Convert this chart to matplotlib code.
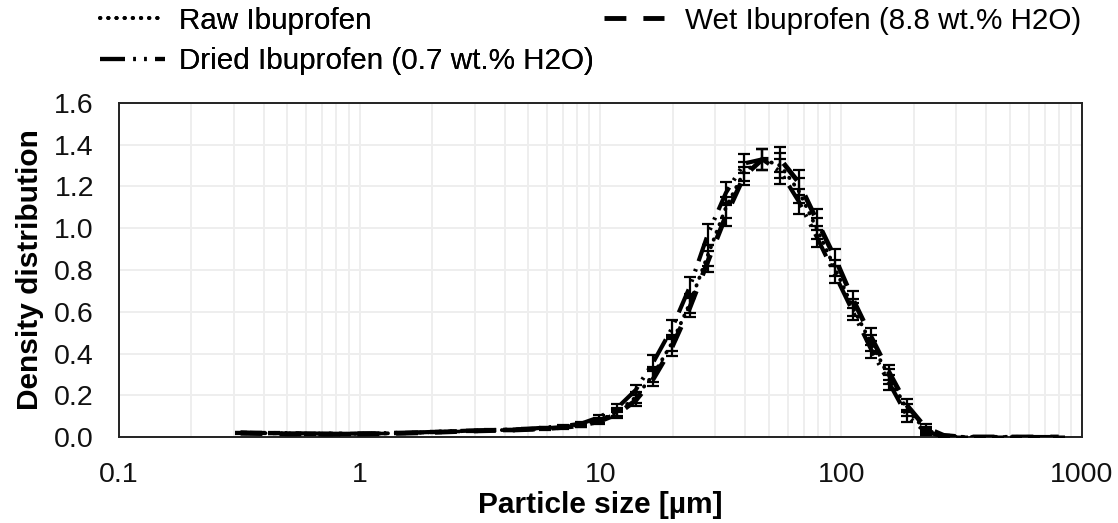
import matplotlib
matplotlib.use("Agg")
import matplotlib.pyplot as plt
from matplotlib.ticker import FixedLocator, FixedFormatter, LogLocator, NullFormatter

plt.rcParams["font.family"] = ["Liberation Sans", "DejaVu Sans"]

# Particle size classes [µm]
sizes = [0.32, 0.37, 0.44, 0.52, 0.62, 0.73, 0.87, 1.04, 1.23, 1.47,
         1.75, 2.08, 2.47, 2.94, 3.49, 4.15, 4.94, 5.88, 6.99, 8.31,
         9.88, 11.75, 14.0, 16.6, 19.8, 23.5, 27.9, 33.2, 39.5, 47.0,
         55.9, 66.5, 79.0, 94.0, 111.8, 133.0, 158.0, 188.0, 224.0, 266.0,
         316.0, 376.0, 447.0, 532.0, 632.0, 800.0]

raw = [0.020, 0.019, 0.018, 0.017, 0.016, 0.015, 0.015, 0.016, 0.017, 0.019,
       0.021, 0.024, 0.027, 0.030, 0.032, 0.034, 0.037, 0.042, 0.048, 0.058,
       0.080, 0.120, 0.190, 0.300, 0.450, 0.640, 0.870, 1.100, 1.270, 1.330,
       1.300, 1.180, 1.000, 0.810, 0.620, 0.450, 0.290, 0.130, 0.035, 0.005,
       0.000, 0.000, 0.000, 0.000, 0.000, 0.000]

dried = [0.022, 0.020, 0.019, 0.018, 0.017, 0.016, 0.016, 0.017, 0.018, 0.020,
         0.022, 0.025, 0.028, 0.031, 0.033, 0.035, 0.039, 0.045, 0.052, 0.064,
         0.095, 0.140, 0.225, 0.360, 0.520, 0.720, 0.970, 1.170, 1.310, 1.330,
         1.270, 1.130, 0.960, 0.780, 0.600, 0.420, 0.260, 0.100, 0.025, 0.003,
         0.000, 0.000, 0.000, 0.000, 0.000, 0.000]

wet = [0.018, 0.017, 0.016, 0.015, 0.015, 0.014, 0.014, 0.015, 0.016, 0.018,
       0.020, 0.023, 0.026, 0.029, 0.031, 0.033, 0.036, 0.040, 0.046, 0.055,
       0.075, 0.110, 0.175, 0.280, 0.430, 0.620, 0.840, 1.060, 1.250, 1.330,
       1.330, 1.220, 1.040, 0.860, 0.660, 0.480, 0.310, 0.150, 0.045, 0.008,
       0.000, 0.000, 0.000, 0.000, 0.000, 0.000]

err = [0.003, 0.003, 0.003, 0.003, 0.003, 0.003, 0.003, 0.003, 0.003, 0.003,
       0.003, 0.003, 0.003, 0.003, 0.004, 0.004, 0.004, 0.005, 0.006, 0.008,
       0.012, 0.018, 0.025, 0.035, 0.040, 0.045, 0.050, 0.050, 0.045, 0.050,
       0.060, 0.060, 0.050, 0.040, 0.040, 0.040, 0.035, 0.030, 0.015, 0.004,
       0.000, 0.000, 0.000, 0.000, 0.000, 0.000]

labels = ["Raw Ibuprofen", "Dried Ibuprofen (0.7 wt.% H2O)", "Wet Ibuprofen (8.8 wt.% H2O)"]
x_ticks = [0.1, 1, 10, 100, 1000]
x_tick_labels = ["0.1", "1", "10", "100", "1000"]
y_ticks = [0.0, 0.2, 0.4, 0.6, 0.8, 1.0, 1.2, 1.4, 1.6]

FS_TICK = 20.5
FS_LABEL = 21.5
FS_LEG = 21.3

fig = plt.figure(figsize=(11.18, 5.23), dpi=100)
ax = fig.add_axes([0.1064, 0.1644, 0.8614, 0.6387])

styles = [
    dict(linestyle=(0, (0.1, 2.0)), linewidth=2.8, dash_capstyle="round"),
    dict(linestyle=(0, (6, 2, 0.6, 2, 0.6, 2)), linewidth=3.0),
    dict(linestyle=(0, (4.5, 3.5)), linewidth=3.5),
]

handles = []
for ys, st, lab in zip([raw, dried, wet], styles, labels):
    ax.errorbar(sizes, ys, yerr=err, fmt="none", ecolor="black",
                elinewidth=1.6, capsize=4.5, capthick=1.6, zorder=3)
    ln, = ax.plot(sizes, ys, color="black", label=lab, zorder=4, **st)
    handles.append(ln)

ax.set_xscale("log")
ax.set_xlim(0.1, 1000)
ax.set_ylim(0, 1.6)
ax.xaxis.set_major_locator(FixedLocator(x_ticks))
ax.xaxis.set_major_formatter(FixedFormatter(x_tick_labels))
ax.xaxis.set_minor_locator(LogLocator(base=10, subs=range(2, 10)))
ax.xaxis.set_minor_formatter(NullFormatter())
ax.set_yticks(y_ticks)
ax.set_yticklabels([f"{v:.1f}" for v in y_ticks])

ax.grid(True, which="both", axis="x", color="#eeeeee", linewidth=1.4, zorder=0)
ax.grid(True, which="major", axis="y", color="#eeeeee", linewidth=1.4, zorder=0)
ax.set_axisbelow(True)

ax.tick_params(axis="both", which="both", length=0, labelsize=FS_TICK, colors="#111111")
ax.tick_params(axis="y", pad=18)
ax.tick_params(axis="x", pad=18)

for sp in ax.spines.values():
    sp.set_color("#222222")
    sp.set_linewidth(1.4)

ax.set_xlabel("Particle size [µm]", fontsize=FS_LABEL, fontweight="bold", labelpad=2)
ax.set_ylabel("Density distribution", fontsize=FS_LABEL, fontweight="bold", labelpad=7)

leg1 = fig.legend(handles=handles[:2], labels=labels[:2], loc="upper left",
                  bbox_to_anchor=(0.079, 1.010), frameon=False, fontsize=FS_LEG,
                  handlelength=2.2, handletextpad=0.45, labelspacing=0.42,
                  borderaxespad=0)
fig.legend(handles=handles[2:], labels=labels[2:], loc="upper left",
           bbox_to_anchor=(0.53, 1.010), frameon=False, fontsize=FS_LEG,
           handlelength=2.0, handletextpad=0.72, borderaxespad=0)
fig.add_artist(leg1)

fig.savefig("out.png", dpi=100)
